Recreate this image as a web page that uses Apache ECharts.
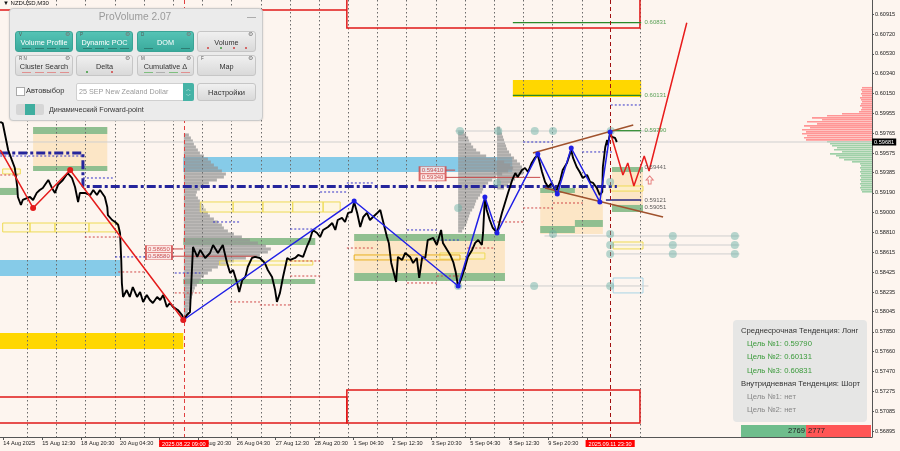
<!DOCTYPE html>
<html><head><meta charset="utf-8">
<script src="https://cdn.jsdelivr.net/npm/echarts@6/dist/echarts.min.js"></script>
<style>
html,body{margin:0;padding:0;background:#fdf5ef;}
#wrap{position:relative;width:900px;height:451px;overflow:hidden;font-family:'Liberation Sans',Arial,sans-serif;}
#chart{position:absolute;left:0;top:0;width:900px;height:451px;}
.ov{position:absolute;white-space:nowrap;}
.btn{position:absolute;height:21px;border-radius:3px;box-sizing:border-box;overflow:hidden;}
.teal{background:linear-gradient(#55c3b5,#3aaa9c);color:#fff;border:1px solid #3aa496;}
.grey{background:linear-gradient(#f0f0f0,#d9d9d9);border:1px solid #c6c6c6;color:#333;}
.btn .lab{position:absolute;left:0;right:0;top:6px;text-align:center;font-size:7.3px;line-height:9px;}
.btn .key{position:absolute;left:3px;top:0px;font-size:4.5px;color:#555;}
.btn .gear{position:absolute;right:2px;top:-1px;font-size:5.5px;color:#777;}
.btn .dash{position:absolute;bottom:2px;height:1px;width:9px;}
.btn .dot{position:absolute;bottom:2px;height:2px;width:2px;border-radius:1px;}
.info div{position:absolute;white-space:nowrap;font-size:7.7px;line-height:10px;}
</style></head>
<body><div id="wrap">
<div id="chart"></div>
</div>
<script>
// ---------------- DATA ----------------
const X_LABEL_BARS = [9,73,137,201,265,329,393,457,521,585,649,713,777,841,905,969];
const X_LABELS = ['14 Aug 2025','15 Aug 12:30','18 Aug 20:30','20 Aug 04:30','21 Aug 12:30','22 Aug 20:30','26 Aug 04:30','27 Aug 12:30','28 Aug 20:30','1 Sep 04:30','2 Sep 12:30','3 Sep 20:30','5 Sep 04:30','8 Sep 12:30','9 Sep 20:30','11 Sep 04:30'];
const MARK_BARS = [306,1007];
const MARK_LABELS = ['2025.08.22 09:00','2025.09.11 23:30'];
const DAY_BARS = [48,96,144,192,240,288,336,384,432,480,528,576,624,672,720,768,816,864,912,960,1056];
const Y_TICKS = [0.60915,0.60720,0.60530,0.60340,0.60150,0.59955,0.59765,0.59575,0.59385,0.59190,0.59000,0.58810,0.58615,0.58425,0.58235,0.58045,0.57850,0.57660,0.57470,0.57275,0.57085,0.56895];
const LAST_PRICE = 0.59681;

const priceTrace = [[4,0.59874],[8,0.59864],[12,0.59749],[17,0.59604],[23,0.59508],[28,0.59430],[32,0.59247],[33,0.59151],[38,0.59074],[41,0.59122],[48,0.59141],[53,0.59151],[58,0.59122],[64,0.59190],[69,0.59218],[74,0.59238],[83,0.59315],[89,0.59238],[94,0.59190],[99,0.59267],[107,0.59315],[115,0.59382],[122,0.59334],[127,0.59247],[132,0.59103],[135,0.59190],[143,0.59190],[152,0.59170],[157,0.59218],[163,0.59170],[168,0.59218],[176,0.59151],[180,0.59055],[181,0.58977],[188,0.58929],[193,0.58910],[198,0.58881],[201,0.58804],[203,0.58544],[204,0.58322],[206,0.58187],[212,0.58254],[217,0.58187],[222,0.58283],[229,0.58187],[234,0.58235],[239,0.58139],[245,0.58206],[250,0.58158],[255,0.58129],[262,0.58187],[267,0.58158],[272,0.58206],[278,0.58091],[283,0.58129],[288,0.58091],[296,0.58062],[303,0.58013],[306,0.57965],[311,0.58013],[316,0.58042],[321,0.58669],[328,0.58573],[333,0.58640],[341,0.58563],[349,0.58611],[354,0.58688],[362,0.58611],[370,0.58688],[377,0.58515],[382,0.58418],[387,0.58447],[393,0.58332],[397,0.58235],[402,0.58351],[407,0.58380],[411,0.58476],[418,0.58563],[423,0.58573],[431,0.58563],[439,0.58515],[444,0.58447],[451,0.58380],[456,0.58254],[459,0.58139],[464,0.58226],[469,0.58380],[476,0.58563],[481,0.58544],[489,0.58563],[494,0.58592],[502,0.58573],[508,0.58669],[513,0.58736],[518,0.58833],[525,0.58804],[530,0.58765],[535,0.58833],[543,0.58862],[550,0.58900],[555,0.58833],[559,0.58929],[566,0.58949],[571,0.58910],[576,0.58997],[582,0.59006],[586,0.59103],[591,0.58997],[596,0.58862],[601,0.58958],[607,0.58997],[612,0.58929],[617,0.58958],[624,0.58997],[629,0.59026],[633,0.58929],[640,0.58765],[643,0.58708],[647,0.58515],[650,0.58447],[655,0.58332],[658,0.58573],[665,0.58544],[670,0.58611],[678,0.58573],[683,0.58515],[689,0.58563],[693,0.58370],[698,0.58573],[703,0.58563],[707,0.58736],[716,0.58756],[722,0.58688],[729,0.58833],[732,0.58708],[739,0.58640],[744,0.58592],[749,0.58524],[753,0.58428],[757,0.58283],[763,0.58380],[768,0.58467],[773,0.58573],[780,0.58640],[785,0.58708],[790,0.58736],[796,0.58688],[798,0.58804],[801,0.59151],[804,0.59026],[809,0.58929],[814,0.58852],[821,0.58804],[826,0.58929],[829,0.58997],[834,0.59093],[839,0.59190],[846,0.59315],[851,0.59382],[855,0.59344],[862,0.59411],[867,0.59430],[872,0.59392],[878,0.59479],[883,0.59527],[888,0.59556],[895,0.59392],[900,0.59296],[905,0.59247],[911,0.59286],[918,0.59199],[925,0.59315],[929,0.59411],[936,0.59479],[943,0.59604],[946,0.59527],[952,0.59440],[957,0.59392],[962,0.59334],[969,0.59363],[974,0.59296],[979,0.59286],[985,0.59238],[990,0.59170],[994,0.59199],[995,0.59440],[999,0.59633],[1002,0.59700],[1003,0.59652],[1007,0.59768],[1010,0.59729],[1015,0.59720],[1018,0.59681]];

const blueZigzag = [[305,0.57965],[586,0.59112],[757,0.58293],[801,0.59151],[821,0.58804],[888,0.59566],[920,0.59180],[943,0.59623],[990,0.59103],[1007,0.59778]];
const redZigzag = [[4,0.59604],[58,0.59045],[119,0.59411],[305,0.57965]];
const redForecast = [[1007,0.59778],[1028,0.59363],[1036,0.59479],[1046,0.59257],[1063,0.59546],[1071,0.59402],[1133,0.60831]];
const brownUpper = [[880,0.59575],[1045,0.59845]];
const brownLower = [[900,0.59238],[1094,0.58958]];
const navyStep = [[4,0.59575],[140,0.59575],[140,0.59252],[1018,0.59252]];

// bands: [barFrom, barTo, priceTop, priceBottom]
const skyBands = [[305,846,0.59537,0.59392],[0,201,0.58544,0.58389]];
const goldBands = [[847,1058,0.60279,0.60115],[0,305,0.57840,0.57686]];
const wheatZones = [[58,180,0.59826,0.59402],[586,834,0.58794,0.58351],[892,995,0.59238,0.58794],[1010,1061,0.59440,0.59006]];
const greenBands = [[58,180,0.59826,0.59758],[58,180,0.59450,0.59402],[0,33,0.59238,0.59170],[305,522,0.58756,0.58688],[305,522,0.58360,0.58312],[586,834,0.58794,0.58727],[586,834,0.58418,0.58341],[892,949,0.59238,0.59190],[892,949,0.58871,0.58804],[949,995,0.58929,0.58862],[1010,1061,0.59440,0.59392],[1010,1061,0.59074,0.59006]];
const yellowBoxes = [[8,53,0.58900,0.58814],[53,94,0.58900,0.58814],[94,150,0.58900,0.58814],[150,198,0.58900,0.58814],[8,37,0.59421,0.59373],[333,387,0.59103,0.59006],[387,436,0.59103,0.59006],[436,485,0.59103,0.59006],[485,535,0.59103,0.59006],[535,563,0.59103,0.59006],[365,518,0.58534,0.58495],[727,801,0.58611,0.58553],[1007,1061,0.59257,0.59208],[1012,1061,0.58717,0.58650]];
const orangeBoxes = [[586,760,0.58592,0.58544]];
const cyanBoxes = [[1012,1061,0.58370,0.58226]];
const redBoxes = [[574,1056,0.6120,0.60780],[574,1056,0.57290,0.56972],[0,574,0.57223,0.56972]];
const redTopLine = [[0,574,0.60954]];

// dashed segments: [barFrom, barTo, price]
const blueDashes = [[140,189,0.59334],[193,291,0.58573],[291,333,0.58418],[354,398,0.58910],[481,530,0.58842],[574,620,0.59286],[530,574,0.59199],[673,722,0.58833],[722,760,0.58736],[864,913,0.59681],[961,1010,0.59585],[1008,1056,0.60038],[4,140,0.59546]];
const redDashes = [[4,37,0.59363],[143,201,0.58765],[198,242,0.58428],[291,333,0.58226],[382,431,0.58139],[431,481,0.58110],[481,530,0.58534],[481,530,0.58389],[574,620,0.58659],[673,722,0.58322],[722,760,0.58389],[772,818,0.58659],[821,864,0.58910],[864,913,0.59045],[913,962,0.59093]];
const redSolid = [[736,752,0.59410],[736,892,0.59340],[287,305,0.58650],[287,426,0.58580]];
const greyLevels = [[4,1437,0.59681],[752,1089,0.59787],[899,1220,0.58775],[1007,1220,0.58688],[1007,1220,0.58602],[752,1070,0.58293]];
const greenLevels = [[847,1058,0.60831],[847,1058,0.60131],[1010,1058,0.59790]];
const navyLevels = [[1000,1058,0.59121]];

const tealDots = [[760,0.59787],[823,0.59787],[883,0.59787],[913,0.59787],[1008,0.59787],[757,0.59045],[821,0.59286],[1007,0.59296],[913,0.58794],[1007,0.58794],[1110,0.58775],[1212,0.58775],[1007,0.58688],[1110,0.58688],[1212,0.58688],[1007,0.58602],[1110,0.58602],[1212,0.58602],[757,0.58293],[882,0.58293],[1007,0.58293]];

const levelTexts = [['0.60831',0.60831,'#2e8b2e'],['0.60131',0.60131,'#2e8b2e'],['0.59790',0.59790,'#2e8b2e'],['0.59441',0.59441,'#444'],['0.59121',0.59121,'#333'],['0.59051',0.59051,'#333']];
const boxTexts = [['0.59410',715,0.59410],['0.59340',715,0.59340],['0.58650',265,0.58650],['0.58580',265,0.58580]];

// volume profiles: [price, volume]
const vp1 = [[0.59749,5],[0.59720,7],[0.59691,9],[0.59662,10],[0.59633,12],[0.59604,14],[0.59575,16],[0.59546,20],[0.59517,24],[0.59488,27],[0.59459,30],[0.59430,34],[0.59402,38],[0.59373,42],[0.59344,40],[0.59315,33],[0.59286,25],[0.59257,20],[0.59228,16],[0.59199,13],[0.59170,12],[0.59141,14],[0.59112,16],[0.59083,18],[0.59055,20],[0.59026,22],[0.58997,24],[0.58968,26],[0.58939,30],[0.58910,34],[0.58881,38],[0.58852,40],[0.58823,44],[0.58794,50],[0.58765,58],[0.58736,66],[0.58708,74],[0.58679,82],[0.58650,87],[0.58621,84],[0.58592,76],[0.58563,62],[0.58534,50],[0.58505,42],[0.58476,34],[0.58447,28],[0.58418,24],[0.58389,20],[0.58360,17],[0.58332,15],[0.58303,13],[0.58274,11],[0.58245,10],[0.58216,9],[0.58187,8],[0.58158,7],[0.58129,6],[0.58100,5],[0.58071,5],[0.58042,4],[0.58013,3],[0.57984,2]];
const vp2 = [[0.59778,6],[0.59749,8],[0.59720,10],[0.59691,11],[0.59662,13],[0.59633,15],[0.59604,18],[0.59575,22],[0.59546,28],[0.59517,38],[0.59488,46],[0.59459,52],[0.59430,55],[0.59402,50],[0.59373,44],[0.59344,38],[0.59315,34],[0.59286,30],[0.59257,27],[0.59228,25],[0.59199,24],[0.59170,22],[0.59141,20],[0.59112,18],[0.59083,17],[0.59055,16],[0.59026,14],[0.58997,12],[0.58968,11],[0.58939,10],[0.58910,9],[0.58881,8],[0.58852,6],[0.58823,4]];
const vp3 = [[0.59816,3],[0.59787,4],[0.59758,5],[0.59729,6],[0.59700,7],[0.59671,8],[0.59643,9],[0.59614,10],[0.59585,12],[0.59556,14],[0.59527,17],[0.59498,20],[0.59469,23],[0.59440,25],[0.59411,27],[0.59382,26],[0.59353,22],[0.59324,18],[0.59296,15],[0.59267,11],[0.59238,7]];
const VP_ANCHORS = [306,757,821];

// DOM (right side): [price, volume]
const domAsk = [[0.60202,10],[0.60182,11],[0.60163,10],[0.60144,11],[0.60125,10],[0.60105,12],[0.60086,11],[0.60067,10],[0.60047,11],[0.60028,12],[0.60009,10],[0.59990,11],[0.59970,13],[0.59951,30],[0.59932,45],[0.59912,60],[0.59893,50],[0.59874,65],[0.59854,55],[0.59835,68],[0.59816,62],[0.59797,70],[0.59777,66],[0.59758,70],[0.59739,65],[0.59720,68],[0.59700,66]];
const domBid = [[0.59681,45],[0.59662,42],[0.59643,40],[0.59623,35],[0.59604,38],[0.59585,30],[0.59565,42],[0.59546,36],[0.59527,33],[0.59508,28],[0.59488,20],[0.59469,12],[0.59450,11],[0.59430,12],[0.59411,11],[0.59392,12],[0.59373,11],[0.59353,12],[0.59334,11],[0.59315,12],[0.59296,11],[0.59276,12],[0.59257,11],[0.59238,12],[0.59218,11],[0.59199,10]];

const infoLines = [['Среднесрочная Тенденция: Лонг','#333',0],['Цель №1: 0.59790','#3a9a3a',1],['Цель №2: 0.60131','#3a9a3a',1],['Цель №3: 0.60831','#3a9a3a',1],['Внутридневная Тенденция: Шорт','#333',0],['Цель №1: нет','#888',1],['Цель №2: нет','#888',1]];
const deltaBuy = 2769, deltaSell = 2777;

// ---------------- LAYOUT / STYLE ----------------
const X_MIN = 3.6, X_MAX = 1437.6, Y_MIN = 0.56837, Y_MAX = 0.6105;
const VOL_SCALE = 1.6445;   // bars per volume unit
const VP_STEP = 0.000289, DOM_STEP = 0.000193;

function rectSeries(data, style, z){
  return {type:'custom', z, silent:true, clip:true, data,
    renderItem(p, api){
      const a = api.coord([api.value(0), api.value(2)]);
      const b = api.coord([api.value(1), api.value(3)]);
      return {type:'rect', shape:{x:Math.min(a[0],b[0]), y:Math.min(a[1],b[1]), width:Math.abs(b[0]-a[0]), height:Math.abs(b[1]-a[1])}, style};
    }};
}
function segSeries(data, stroke, lineWidth, lineDash, z){
  return {type:'custom', z, silent:true, clip:true, data,
    renderItem(p, api){
      const a = api.coord([api.value(0), api.value(2)]);
      const b = api.coord([api.value(1), api.value(2)]);
      return {type:'line', shape:{x1:a[0],y1:a[1],x2:b[0],y2:b[1]}, style:{stroke, lineWidth, lineDash}};
    }};
}
function vlineSeries(bars, stroke, lineWidth, lineDash, z){
  return {type:'custom', z, silent:true, clip:true, data:bars.map(b=>[b]),
    renderItem(p, api){
      const a = api.coord([api.value(0), Y_MAX]);
      const b = api.coord([api.value(0), Y_MIN]);
      return {type:'line', shape:{x1:Math.round(a[0])+0.5,y1:a[1],x2:Math.round(b[0])+0.5,y2:b[1]}, style:{stroke, lineWidth, lineDash}};
    }};
}
function profileSeries(rows, anchor, dir, step, fill, z, fillRatio){
  return {type:'custom', z, silent:true, clip:true, data:rows,
    renderItem(p, api){
      const pr = api.value(0), v = api.value(1);
      const a = api.coord([anchor, pr + step/2]);
      const b = api.coord([anchor + dir*v*VOL_SCALE, pr - step/2]);
      return {type:'rect', shape:{x:Math.min(a[0],b[0]), y:a[1], width:Math.abs(b[0]-a[0]), height:Math.max(1,(b[1]-a[1])*fillRatio)}, style:{fill}};
    }};
}

const series = [];
series.push(rectSeries(wheatZones, {fill:'#fce6c6'}, 1));
series.push(rectSeries(skyBands, {fill:'#86cbe8'}, 2));
series.push(rectSeries(goldBands, {fill:'#ffd700'}, 2));
series.push(rectSeries(greenBands, {fill:'#90bf90'}, 2));
series.push(profileSeries(vp1, VP_ANCHORS[0], 1, VP_STEP, 'rgba(150,150,150,0.75)', 3, 1.02));
series.push(profileSeries(vp2, VP_ANCHORS[1], 1, VP_STEP, 'rgba(150,150,150,0.75)', 3, 1.02));
series.push(profileSeries(vp3, VP_ANCHORS[2], 1, VP_STEP, 'rgba(150,150,150,0.75)', 3, 1.02));
series.push(profileSeries(domAsk, X_MAX, -1, DOM_STEP, '#ff9696', 3, 0.8));
series.push(profileSeries(domBid, X_MAX, -1, DOM_STEP, '#9fd0a8', 3, 0.8));
series.push(rectSeries(yellowBoxes, {fill:'rgba(255,250,200,0.35)', stroke:'#eedb55', lineWidth:1}, 3));
series.push(rectSeries(orangeBoxes, {fill:'rgba(255,240,190,0.3)', stroke:'#e8b020', lineWidth:1}, 3));
series.push(rectSeries(cyanBoxes, {fill:'rgba(0,0,0,0)', stroke:'#a8d4e6', lineWidth:1}, 3));
series.push(rectSeries(redBoxes, {fill:'rgba(0,0,0,0)', stroke:'#e01818', lineWidth:1.5}, 4));
series.push(segSeries(redTopLine, '#e01818', 1.5, null, 4));
series.push(vlineSeries(DAY_BARS, '#6a6a6a', 1, [1.5,2.5], 3));
series.push(segSeries(greyLevels, '#cfcfcf', 1, null, 3));
series.push(segSeries(blueDashes, '#3434c8', 1, [2,2], 4));
series.push(segSeries(redDashes, '#d04848', 1, [2,2], 4));
series.push(segSeries(redSolid, '#c84848', 1, null, 4));
series.push(segSeries(greenLevels, '#2a8a2a', 1.2, null, 5));
series.push(segSeries(navyLevels, '#262680', 1.5, null, 5));
series.push(vlineSeries([MARK_BARS[0]], '#e04040', 1, [4,3], 5));
series.push(vlineSeries([MARK_BARS[1]], '#a01010', 1, [4,3], 5));
series.push({type:'line', z:6, data:navyStep, showSymbol:false, silent:true, lineStyle:{color:'#25259c', width:3, type:[9,3,3,3]}});
series.push({type:'scatter', z:6, data:tealDots, symbolSize:8, silent:true, itemStyle:{color:'rgba(104,176,166,0.6)'}});
series.push({type:'line', z:7, data:priceTrace, showSymbol:false, silent:true, lineStyle:{color:'#000', width:1.9, join:'bevel'}});
series.push({type:'line', z:8, data:brownUpper, showSymbol:false, silent:true, lineStyle:{color:'#a0522d', width:1.5}});
series.push({type:'line', z:8, data:brownLower, showSymbol:false, silent:true, lineStyle:{color:'#a0522d', width:1.5}});
series.push({type:'line', z:9, data:blueZigzag, symbol:'circle', symbolSize:5, showAllSymbol:true, silent:true, lineStyle:{color:'#2020e6', width:1.5}, itemStyle:{color:'#2020e6'}});
series.push({type:'line', z:9, data:redZigzag.map((d,i)=>({value:d, symbolSize: i===0?0:6})), symbol:'circle', showAllSymbol:true, silent:true, lineStyle:{color:'#e41c1c', width:1.5}, itemStyle:{color:'#e41c1c'}});
series.push({type:'line', z:9, data:redForecast, showSymbol:false, silent:true, lineStyle:{color:'#e81c1c', width:1.5}});
series.push({type:'scatter', z:10, silent:true, symbolSize:0, data:levelTexts.map(t=>({value:[1062,t[1]], name:t[0], label:{color:t[2]}})),
  label:{show:true, position:'right', distance:1, formatter:'{b}', fontSize:6, fontFamily:'Liberation Sans'}});
series.push({type:'scatter', z:10, silent:true, symbol:'rect', symbolSize:[26,7], data:boxTexts.map(t=>({value:[t[1],t[2]], name:t[0]})),
  itemStyle:{color:'#fbe4e2', borderColor:'#d04040', borderWidth:1},
  label:{show:true, position:'inside', formatter:'{b}', fontSize:6, color:'#c03030', fontFamily:'Liberation Sans'}});
series.push({type:'scatter', z:10, silent:true, data:[[1072,0.59315]], symbol:'path://M5,0 L10,5 L7,5 L7,10 L3,10 L3,5 L0,5 Z', symbolSize:[7,8], itemStyle:{color:'rgba(0,0,0,0)', borderColor:'#e06060', borderWidth:1}});

const chart = echarts.init(document.getElementById('chart'), null, {renderer:'canvas'});
chart.setOption({
  animation:false,
  backgroundColor:'#fdf5ef',
  grid:{left:0, right:28, top:0, bottom:14, containLabel:false},
  xAxis:[
    {type:'value', min:X_MIN, max:X_MAX, position:'bottom', splitLine:{show:false},
     axisLine:{lineStyle:{color:'#555', width:1}},
     axisTick:{customValues:X_LABEL_BARS, length:3, lineStyle:{color:'#555'}},
     axisLabel:{customValues:X_LABEL_BARS, align:'left', margin:3, fontSize:5.6, color:'#222', fontFamily:'Liberation Sans',
       formatter:v=>{const i=X_LABEL_BARS.indexOf(v); return i>=0?X_LABELS[i]:'';}}},
    {type:'value', min:X_MIN, max:X_MAX, position:'bottom', z:20, splitLine:{show:false}, axisLine:{show:false}, axisTick:{show:false},
     axisLabel:{customValues:MARK_BARS, align:'center', margin:3, fontSize:5.6, color:'#fff', backgroundColor:'#ff0000', padding:[1,3,0,3], fontFamily:'Liberation Sans',
       formatter:v=>{const i=MARK_BARS.indexOf(v); return i>=0?MARK_LABELS[i]:'';}}}
  ],
  yAxis:[
    {type:'value', min:Y_MIN, max:Y_MAX, position:'right', splitLine:{show:false},
     axisLine:{show:true, lineStyle:{color:'#555'}},
     axisTick:{customValues:Y_TICKS, length:2, lineStyle:{color:'#555'}},
     axisLabel:{customValues:Y_TICKS, margin:3, fontSize:5.6, color:'#222', fontFamily:'Liberation Sans', formatter:v=>v.toFixed(5)}},
    {type:'value', min:Y_MIN, max:Y_MAX, position:'right', z:20, splitLine:{show:false}, axisLine:{show:false}, axisTick:{show:false},
     axisLabel:{customValues:[LAST_PRICE], margin:0, fontSize:5.6, color:'#fff', backgroundColor:'#000', padding:[1,2,0,2], fontFamily:'Liberation Sans', formatter:v=>v.toFixed(5)}}
  ],
  series
});

// ---------------- OVERLAYS (panel, info box) ----------------
const wrap = document.getElementById('wrap');
function add(html){ wrap.insertAdjacentHTML('beforeend', html); }
add('<div class="ov" style="left:3px;top:0px;font-size:6px;color:#111">▼ NZDUSD,M30</div>');
add('<div class="ov" style="left:9px;top:8px;width:252px;height:111px;background:#ebebeb;border:1px solid #cbcbcb;border-radius:4px;box-shadow:0 0 2px rgba(0,0,0,0.15)"></div>');
add('<div class="ov" style="left:9px;top:11px;width:252px;text-align:center;font-size:10.2px;color:#9a9a9a">ProVolume 2.07</div>');
add('<div class="ov" style="left:247px;top:12px;font-size:9px;color:#8a8a8a">—</div>');
const buttons = [
 {t:'Volume Profile', k:'V', x:15,y:31,w:58, teal:1, marks:['d#2f7d73','d#2f7d73','d#2f7d73','d#2f7d73']},
 {t:'Dynamic POC', k:'P', x:76,y:31,w:57, teal:1, marks:['d#2f7d73','d#2f7d73','d#2f7d73','d#2f7d73']},
 {t:'DOM', k:'D', x:137,y:31,w:57, teal:1, marks:['d#2f7d73','','','d#2f7d73']},
 {t:'Volume', k:'', x:197,y:31,w:59, marks:['o#d04040','o#3a9a3a','o#d04040','o#d04040']},
 {t:'Cluster Search', k:'R  N', x:15,y:55,w:58, marks:['d#e09090','d#e09090','d#e09090','d#e09090']},
 {t:'Delta', k:'', x:76,y:55,w:57, marks:['o#3a9a3a','','o#d04040','']},
 {t:'Cumulative Δ', k:'M', x:137,y:55,w:57, marks:['d#7fbf7f','d#b0b0b0','d#7fbf7f','d#e09090']},
 {t:'Map', k:'F', x:197,y:55,w:59, marks:[]}
];
buttons.forEach(b=>{
  let m='';
  b.marks.forEach((mk,i)=>{ if(!mk) return; const left = 4 + i*(b.w-8)/4 + 2;
    m += mk[0]==='d' ? `<span class="dash" style="left:${left}px;background:${mk.slice(1)}"></span>` : `<span class="dot" style="left:${left+3}px;background:${mk.slice(1)}"></span>`; });
  add(`<div class="btn ${b.teal?'teal':'grey'}" style="left:${b.x}px;top:${b.y}px;width:${b.w}px"><span class="key">${b.k}</span><span class="gear">⚙</span><span class="lab">${b.t}</span>${m}</div>`);
});
add('<div class="ov" style="left:16px;top:87px;width:7px;height:7px;background:#fff;border:1px solid #aaa"></div>');
add('<div class="ov" style="left:26px;top:86px;font-size:7.5px;color:#333">Автовыбор</div>');
add('<div class="ov" style="left:76px;top:83px;width:118px;height:18px;background:#fff;border:1px solid #d0d0d0;box-sizing:border-box;border-radius:2px"></div>');
add('<div class="ov" style="left:79px;top:87px;font-size:7.2px;color:#9a9a9a">25 SEP New Zealand Dollar</div>');
add('<div class="ov" style="left:183px;top:83px;width:11px;height:18px;background:#45b3a6;border-radius:0 2px 2px 0;color:#fff;font-size:5px;line-height:6px;text-align:center;padding-top:3px;box-sizing:border-box">︿<br>﹀</div>');
add('<div class="btn grey" style="left:197px;top:83px;width:59px;height:18px"><span class="lab" style="top:4px;font-size:7.5px">Настройки</span></div>');
add('<div class="ov" style="left:16px;top:104px;width:28px;height:11px;background:#d6d6d6;border-radius:2px"></div>');
add('<div class="ov" style="left:25px;top:104px;width:10px;height:11px;background:#3fae9f"></div>');
add('<div class="ov" style="left:49px;top:105px;font-size:7.2px;color:#333">Динамический Forward-point</div>');

// info box
let info = '<div class="ov info" style="left:733px;top:320px;width:134px;height:102px;background:#e6e6e5;border-radius:4px">';
infoLines.forEach((l,i)=>{ info += `<div style="left:${l[2]?14:8}px;top:${6+i*13.2}px;color:${l[1]}">${l[0]}</div>`; });
info += '</div>';
add(info);
add(`<div class="ov" style="left:741px;top:425px;width:65px;height:12px;background:#6fbd8c"></div>`);
add(`<div class="ov" style="left:806px;top:425px;width:65px;height:12px;background:#ff5656"></div>`);
add(`<div class="ov" style="left:741px;top:426px;width:64px;text-align:right;font-size:7.6px;color:#222">${deltaBuy}</div>`);
add(`<div class="ov" style="left:808px;top:426px;font-size:7.6px;color:#222">${deltaSell}</div>`);
</script>
</body></html>
